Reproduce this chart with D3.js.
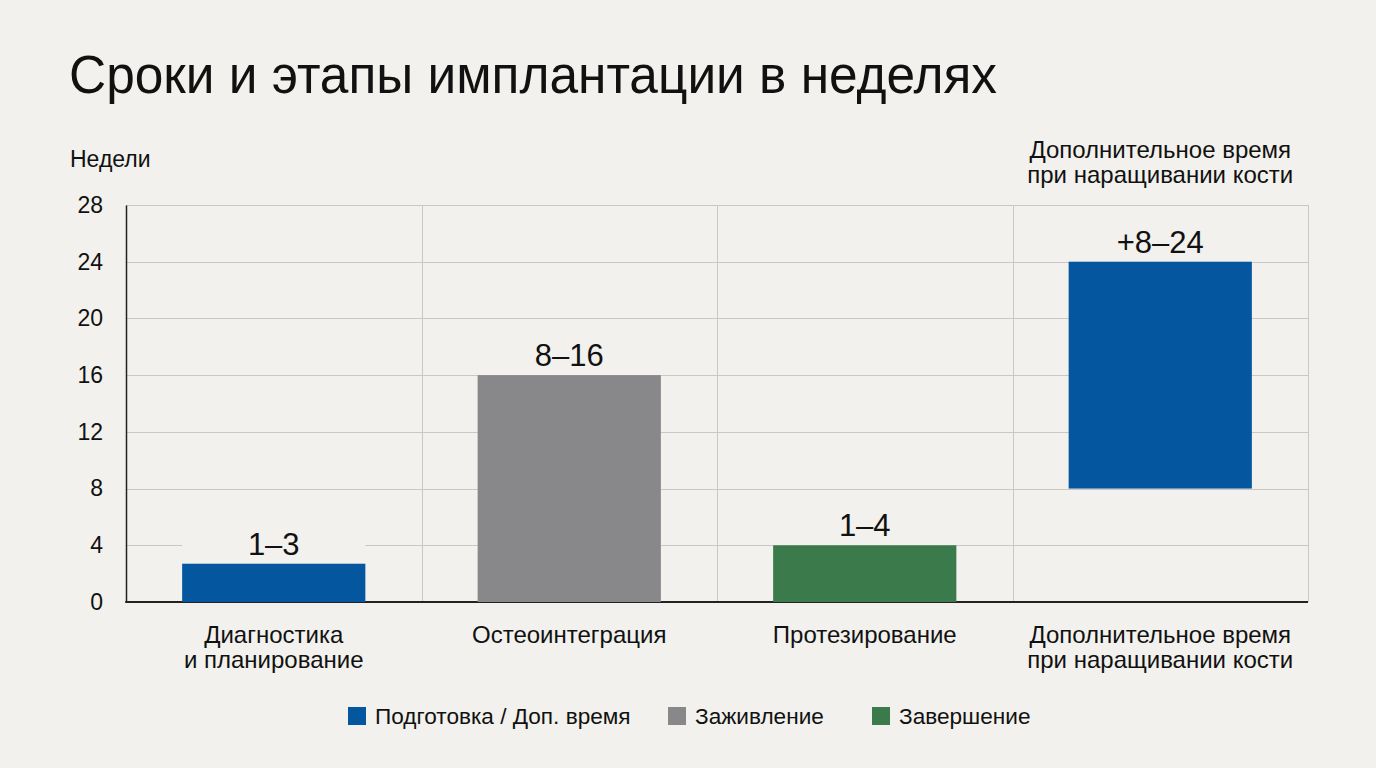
<!DOCTYPE html>
<html><head><meta charset="utf-8">
<script src="https://cdn.jsdelivr.net/npm/d3@7"></script>
<style>
html,body{margin:0;padding:0;background:#f2f1ed;}
svg{display:block;font-family:"Liberation Sans",Arial,Helvetica,sans-serif;}
</style></head>
<body>
<svg id="chart" width="1376" height="768"></svg>
<script>
const categories = ["Диагностика\nи планирование", "Остеоинтеграция", "Протезирование", "Дополнительное время\nпри наращивании кости"];
const barStart = [0, 0, 0, 8];
const barEnd = [2.7, 16, 4, 24];
const barLabels = ["1–3", "8–16", "1–4", "+8–24"];
const barGroup = ["Подготовка / Доп. время", "Заживление", "Завершение", "Подготовка / Доп. время"];
const legendItems = ["Подготовка / Доп. время", "Заживление", "Завершение"];
const groupColors = ["#04569f", "#888789", "#3a7a4b"];
const yTicks = [0, 4, 8, 12, 16, 20, 24, 28];
const title = "Сроки и этапы имплантации в неделях";
const yTitle = "Недели";
const topNote = ["Дополнительное время", "при наращивании кости"];

const svg = d3.select("#chart");
const W = 1376, H = 768;
svg.append("rect").attr("width", W).attr("height", H).attr("fill", "#f2f1ed");

const m = {left: 126, right: 1308, top: 205, bottom: 602};
const x = d3.scaleBand().domain(d3.range(categories.length)).range([m.left, m.right]).padding(0);
const y = d3.scaleLinear().domain([0, 28]).range([m.bottom, m.top]);
const color = d3.scaleOrdinal().domain(legendItems).range(groupColors);
const barW = x.bandwidth() * 0.62;

// title
svg.append("text").attr("x", 69).attr("y", 93).attr("font-size", 54)
  .attr("textLength", 928).attr("lengthAdjust", "spacingAndGlyphs")
  .attr("fill", "#111").text(title);
svg.append("text").attr("x", 70).attr("y", 167).attr("font-size", 23).attr("fill", "#111").text(yTitle);

// horizontal grid
svg.append("g").selectAll("line").data(yTicks.filter(d => d > 0)).join("line")
  .attr("x1", m.left).attr("x2", m.right)
  .attr("y1", d => Math.round(y(d)) + 0.5).attr("y2", d => Math.round(y(d)) + 0.5)
  .attr("stroke", "#c9c8c5").attr("stroke-width", 1);
// vertical grid
const vx = d3.range(categories.length + 1).map(i => i < categories.length ? x(i) : m.right);
svg.append("g").selectAll("line").data(vx.slice(1)).join("line")
  .attr("x1", d => Math.round(d) + 0.5).attr("x2", d => Math.round(d) + 0.5)
  .attr("y1", m.top).attr("y2", m.bottom)
  .attr("stroke", "#c9c8c5").attr("stroke-width", 1);

// y axis
const yAxis = d3.axisLeft(y).tickValues(yTicks).tickSize(0).tickPadding(23);
const gy = svg.append("g").attr("transform", `translate(${m.left},0)`).call(yAxis);
gy.select(".domain").attr("stroke", "#222").attr("stroke-width", 1.5);
gy.selectAll("text").attr("font-size", 23).attr("fill", "#111").attr("font-family", "Liberation Sans, Arial, sans-serif");

// x axis line
svg.append("line").attr("x1", m.left - 0.75).attr("x2", m.right).attr("y1", m.bottom).attr("y2", m.bottom)
  .attr("stroke", "#222").attr("stroke-width", 2);

// bars
const idx = d3.range(categories.length);
svg.append("g").selectAll("rect").data(idx).join("rect")
  .attr("x", i => x(i) + (x.bandwidth() - barW) / 2)
  .attr("width", barW)
  .attr("y", i => y(barEnd[i]))
  .attr("height", i => y(barStart[i]) - y(barEnd[i]))
  .attr("fill", i => color(barGroup[i]));

// label backgrounds + labels
const lg = svg.append("g");
lg.selectAll("rect").data(idx).join("rect")
  .attr("x", i => x(i) + (x.bandwidth() - barW) / 2)
  .attr("width", barW)
  .attr("y", i => y(barEnd[i]) - 36)
  .attr("height", 34)
  .attr("fill", "#f2f1ed");
lg.selectAll("text").data(idx).join("text")
  .attr("x", i => x(i) + x.bandwidth() / 2)
  .attr("y", i => y(barEnd[i]) - 9)
  .attr("text-anchor", "middle").attr("font-size", 31).attr("fill", "#111")
  .text(i => barLabels[i]);

// category labels
const cg = svg.append("g");
idx.forEach(i => {
  const lines = categories[i].split("\n");
  const t = cg.append("text").attr("text-anchor", "middle").attr("font-size", 24).attr("fill", "#111");
  lines.forEach((ln, k) => t.append("tspan").attr("x", x(i) + x.bandwidth() / 2).attr("y", 643 + k * 25).text(ln));
});

// top note
const tn = svg.append("text").attr("text-anchor", "middle").attr("font-size", 24).attr("fill", "#111");
topNote.forEach((ln, k) => tn.append("tspan").attr("x", x(3) + x.bandwidth() / 2).attr("y", 158 + k * 25).text(ln));

// legend
const legX = [348, 668, 872];
const lgd = svg.append("g");
legendItems.forEach((d, i) => {
  lgd.append("rect").attr("x", legX[i]).attr("y", 707).attr("width", 18).attr("height", 18).attr("fill", color(d));
  lgd.append("text").attr("x", legX[i] + 27).attr("y", 724).attr("font-size", 22.6).attr("fill", "#111").text(d);
});
</script>
</body></html>
